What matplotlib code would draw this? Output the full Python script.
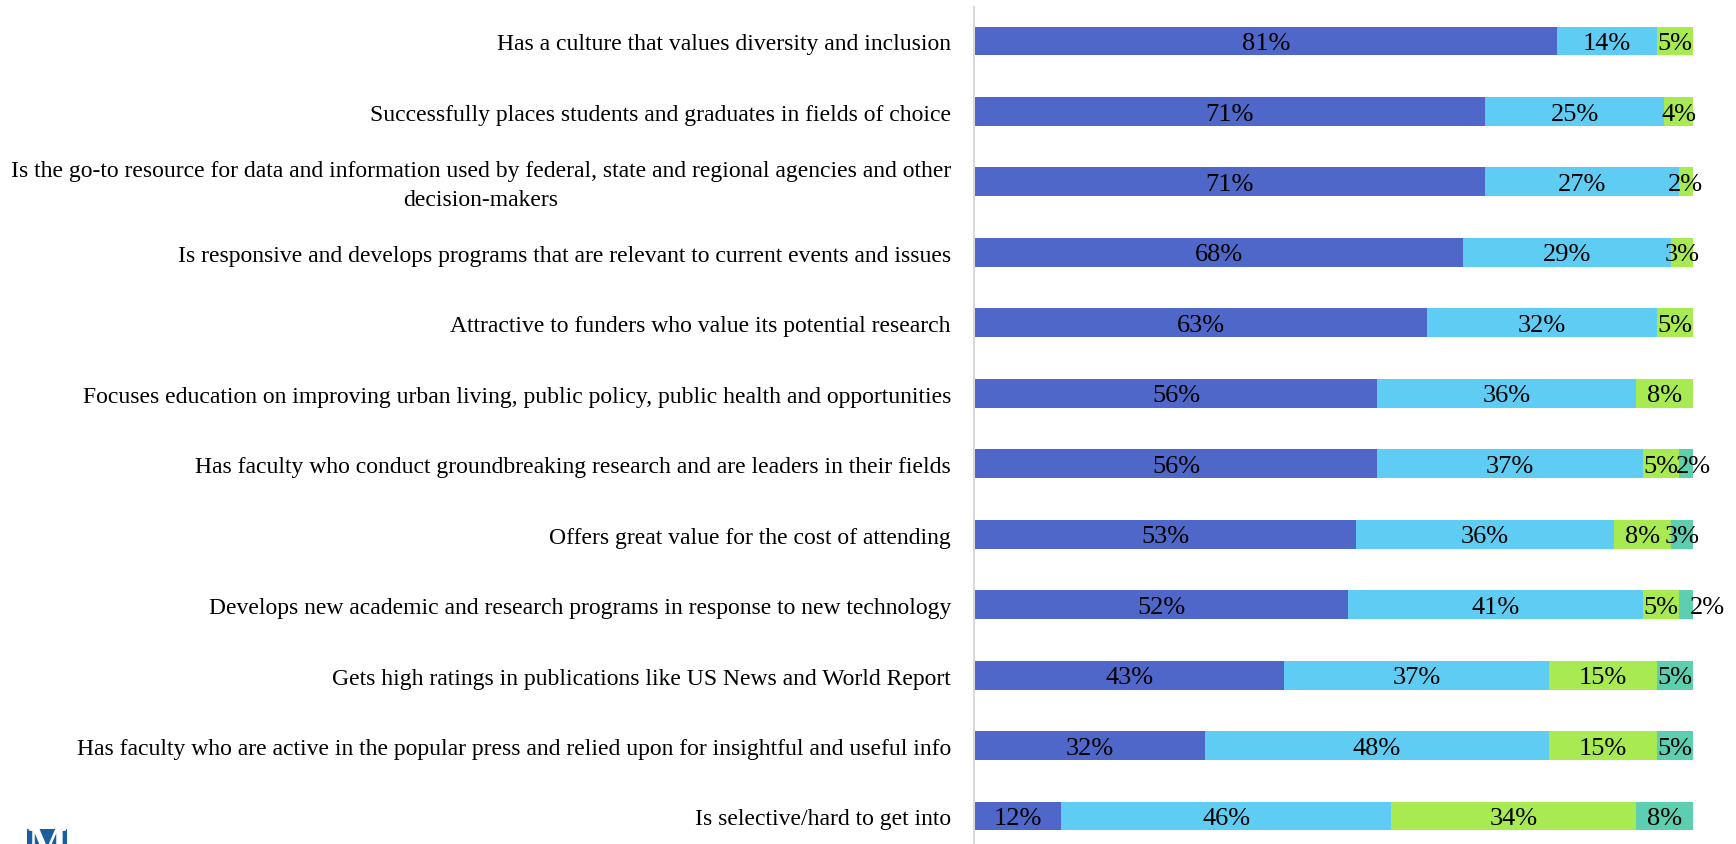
import matplotlib
matplotlib.use("Agg")
import matplotlib.pyplot as plt
from matplotlib.patches import Rectangle
from matplotlib.transforms import ScaledTranslation

plt.rcParams['font.family'] = ['Liberation Serif', 'DejaVu Serif']

statements = [
    "Has a culture that values diversity and inclusion",
    "Successfully places students and graduates in fields of choice",
    "Is the go-to resource for data and information used by federal, state and regional agencies and other\ndecision-makers",
    "Is responsive and develops programs that are relevant to current events and issues",
    "Attractive to funders who value its potential research",
    "Focuses education on improving urban living, public policy, public health and opportunities",
    "Has faculty who conduct groundbreaking research and are leaders in their fields",
    "Offers great value for the cost of attending",
    "Develops new academic and research programs in response to new technology",
    "Gets high ratings in publications like US News and World Report",
    "Has faculty who are active in the popular press and relied upon for insightful and useful info",
    "Is selective/hard to get into",
]

very_important = [81, 71, 71, 68, 63, 56, 56, 53, 52, 43, 32, 12]
somewhat_important = [14, 25, 27, 29, 32, 36, 37, 36, 41, 37, 48, 46]
not_very_important = [5, 4, 2, 3, 5, 8, 5, 8, 5, 15, 15, 34]
not_at_all_important = [0, 0, 0, 0, 0, 0, 2, 3, 2, 5, 5, 8]

series = [very_important, somewhat_important, not_very_important, not_at_all_important]
colors = ["#4E67C8", "#5ECCF3", "#A7EA52", "#5DCEAF"]

# tiny end segments get their labels pushed right so they stay readable
label_nudge = {(6, 3): 1.0, (8, 3): 3.0}

W, H = 1736, 845
fig = plt.figure(figsize=(W / 100, H / 100), dpi=100)

# plot area: x 975..1693 px, rows centred from 42 px down to 817 px
row_px = (817 - 42) / 11
top_rows = (42 - 8) / row_px
ax_top = 8
bottom_val = 11.55
ax_bottom = 42 + bottom_val * row_px
ax = fig.add_axes([975 / W, 1 - ax_bottom / H, (1693 - 975) / W, (ax_bottom - ax_top) / H])

ypos = list(range(len(statements)))
left = [0] * len(statements)
for si, (vals, col) in enumerate(zip(series, colors)):
    ax.barh(ypos, vals, left=left, height=0.41, color=col, edgecolor="none")
    for y, v, l in zip(ypos, vals, left):
        if v > 0:
            x = l + v / 2 + label_nudge.get((y, si), 0.0)
            ax.text(x, y + 0.03, f"{v}%", ha="center", va="center",
                    fontsize=19, color="black")
    left = [a + b for a, b in zip(left, vals)]

ax.set_xlim(0, 100)
ax.set_ylim(bottom_val, -top_rows)
ax.set_xticks([])
ax.set_yticks([])

# category labels, right-aligned against the axis, multi-line ones centred
label_tf = ax.get_yaxis_transform() + ScaledTranslation(-24 / 100, -3 / 100, fig.dpi_scale_trans)
for y, s in zip(ypos, statements):
    ax.text(0, y, s, transform=label_tf, ha="right", va="center",
            multialignment="center", fontsize=17, color="black", linespacing=1.45)

for side in ["top", "right", "bottom"]:
    ax.spines[side].set_visible(False)
ax.spines["left"].set_color("#D9D9D9")
ax.spines["left"].set_linewidth(1.5)
ax.spines["left"].set_position(("outward", 1))

# corner logo
fig.patches.append(Rectangle((27 / W, 0), 40 / W, 15 / H, transform=fig.transFigure,
                             facecolor="#1B5E9E", edgecolor="none"))
fig.text(47 / W, -21 / H, "M", ha="center", va="bottom", fontsize=30,
         color="white", fontweight="bold")

fig.savefig("out.png", dpi=100)
